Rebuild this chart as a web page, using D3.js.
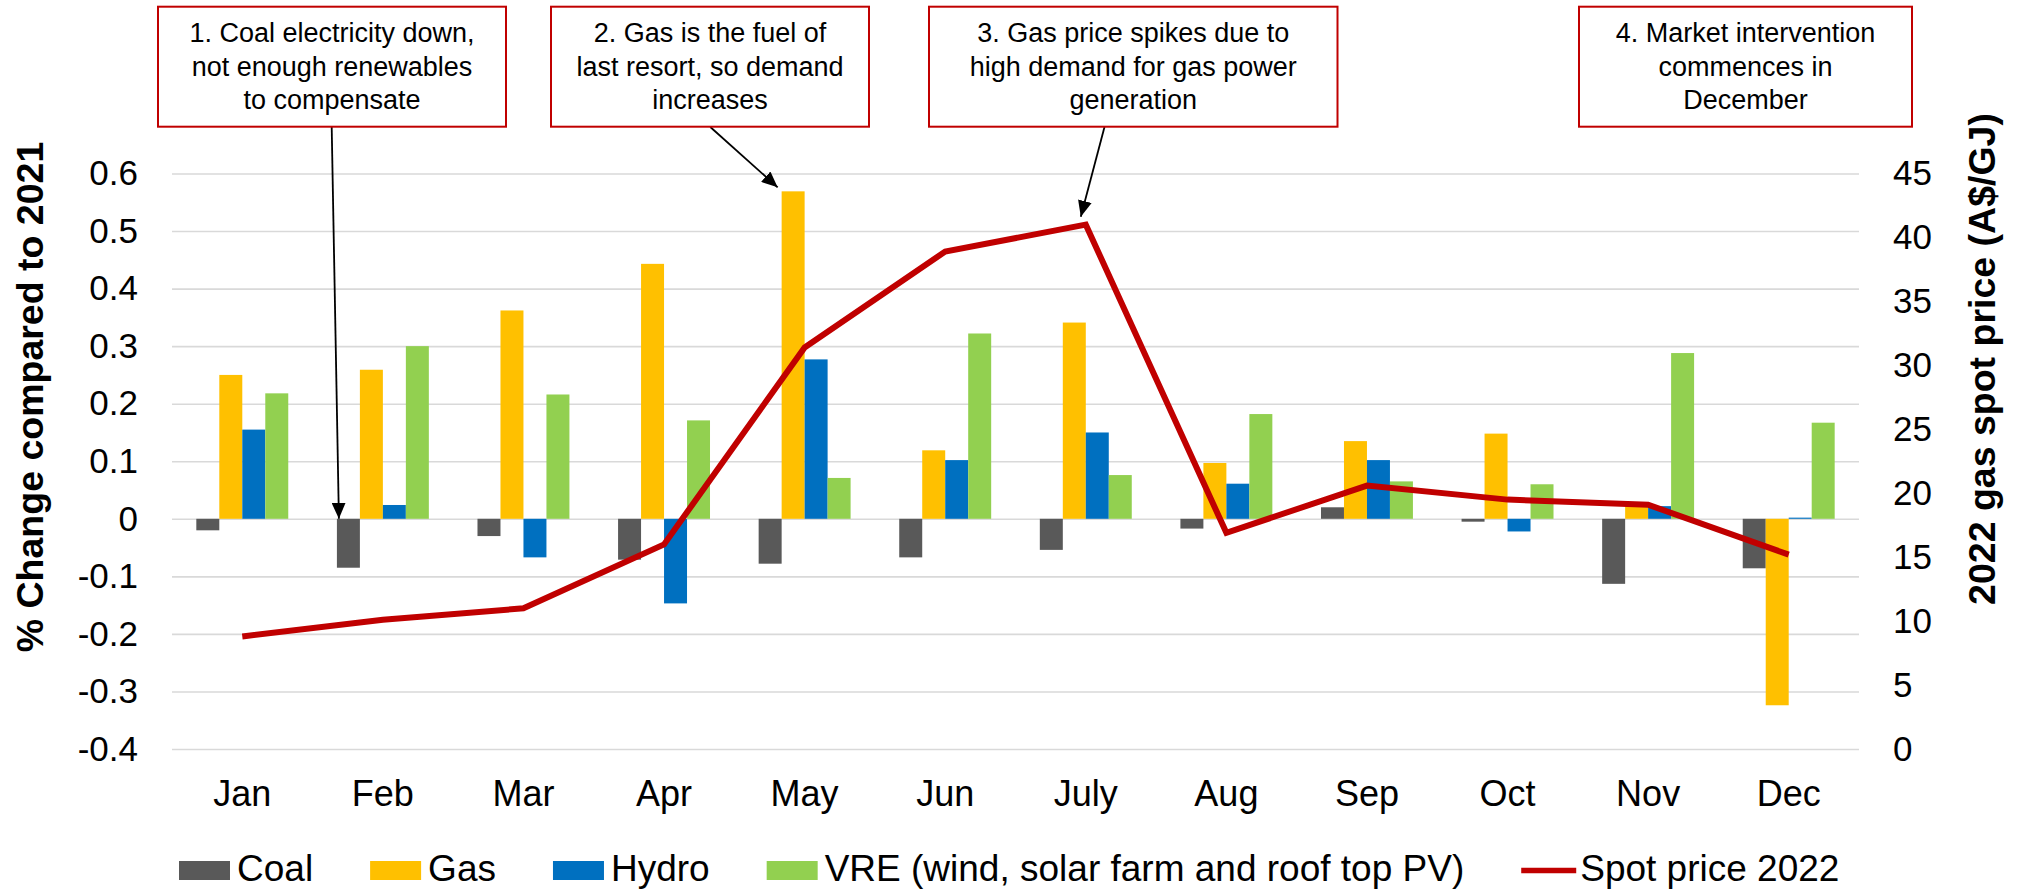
<!DOCTYPE html>
<html>
<head>
<meta charset="utf-8">
<script src="https://cdnjs.cloudflare.com/ajax/libs/d3/7.8.5/d3.min.js"></script>
<style>
    html, body { margin: 0; padding: 0; background: #fff; }
    svg { display: block; font-family: "Liberation Sans", Arial, sans-serif; }
</style>
</head>
<body>
<svg id="chart" width="2018" height="890"></svg>
<script>
// Data
const months = ['Jan', 'Feb', 'Mar', 'Apr', 'May', 'Jun', 'July', 'Aug', 'Sep', 'Oct', 'Nov', 'Dec'];
const seriesNames = ['Coal', 'Gas', 'Hydro', 'VRE (wind, solar farm and roof top PV)'];
const coal  = [-0.020, -0.085, -0.030, -0.071, -0.078, -0.067, -0.054, -0.017, 0.020, -0.005, -0.113, -0.086];
const gas   = [0.250, 0.259, 0.362, 0.443, 0.569, 0.119, 0.341, 0.097, 0.135, 0.148, 0.025, -0.324];
const hydro = [0.155, 0.024, -0.067, -0.147, 0.277, 0.102, 0.150, 0.061, 0.102, -0.022, 0.022, 0.002];
const vre   = [0.218, 0.300, 0.216, 0.171, 0.071, 0.322, 0.076, 0.182, 0.065, 0.060, 0.288, 0.167];
const spotPrice = [8.8, 10.1, 11.0, 16.0, 31.4, 38.9, 41.0, 16.9, 20.6, 19.5, 19.1, 15.2];
const lineName = 'Spot price 2022';
const leftTicks = [-0.4, -0.3, -0.2, -0.1, 0, 0.1, 0.2, 0.3, 0.4, 0.5, 0.6];
const rightTicks = [0, 5, 10, 15, 20, 25, 30, 35, 40, 45];
const notes = [
    ['1. Coal electricity down,', 'not enough renewables', 'to compensate'],
    ['2. Gas is the fuel of', 'last resort, so demand', 'increases'],
    ['3. Gas price spikes due to', 'high demand for gas power', 'generation'],
    ['4. Market intervention', 'commences in', 'December']
];

// Styles
const Config = {
    colors: ['#595959', '#FFC000', '#0070C0', '#92D050'],
    lineColor: '#C00000',
    grid: '#D9D9D9',
    plot: { left: 172, right: 1859, top: 173.5, bottom: 749 }
};

const svg = d3.select('#chart');
const P = Config.plot;
const barData = [coal, gas, hydro, vre];

// 1. Scales
const x = d3.scaleBand().domain(months).range([P.left, P.right])
    .paddingInner(0.346).paddingOuter(0.173);
const x1 = d3.scaleBand().domain(seriesNames).range([0, x.bandwidth()]);
const y = d3.scaleLinear().domain([-0.4, 0.6]).range([P.bottom, P.top]);
const y2 = d3.scaleLinear().domain([0, 45]).range([P.bottom, P.top]);

// 2. Gridlines
const grid = svg.append('g')
    .attr('transform', `translate(${P.left},0)`)
    .call(d3.axisLeft(y).tickValues(leftTicks).tickSize(-(P.right - P.left)).tickFormat(''));
grid.select('.domain').remove();
grid.selectAll('line').attr('stroke', Config.grid).attr('stroke-width', 1.6);

// Left axis labels
const fmt = d => d === 0 ? '0' : d.toFixed(1);
const leftAxis = svg.append('g')
    .attr('transform', 'translate(138,0)')
    .call(d3.axisLeft(y).tickValues(leftTicks).tickSize(0).tickPadding(0).tickFormat(fmt));
leftAxis.select('.domain').remove();
leftAxis.selectAll('text').attr('font-size', 35).attr('fill', '#000')
    .attr('font-family', '"Liberation Sans", Arial, sans-serif');

// Right axis labels
const rightAxis = svg.append('g')
    .attr('transform', 'translate(1893,0)')
    .call(d3.axisRight(y2).tickValues(rightTicks).tickSize(0).tickPadding(0));
rightAxis.select('.domain').remove();
rightAxis.selectAll('text').attr('font-size', 35).attr('fill', '#000')
    .attr('font-family', '"Liberation Sans", Arial, sans-serif');

// Month labels
svg.append('g').selectAll('text')
    .data(months)
    .enter().append('text')
    .attr('x', d => x(d) + x.bandwidth() / 2)
    .attr('y', 806)
    .attr('text-anchor', 'middle')
    .attr('font-size', 36)
    .text(d => d);

// Axis titles
svg.append('text')
    .attr('transform', 'translate(43,397) rotate(-90)')
    .attr('text-anchor', 'middle')
    .attr('font-size', 37.5)
    .attr('font-weight', 'bold')
    .text('% Change compared to 2021');

svg.append('text')
    .attr('transform', 'translate(1995,359) rotate(-90)')
    .attr('text-anchor', 'middle')
    .attr('font-size', 37.5)
    .attr('font-weight', 'bold')
    .text('2022 gas spot price (A$/GJ)');

// 3. Bars
const groups = svg.append('g').selectAll('g')
    .data(months)
    .enter().append('g')
    .attr('transform', d => `translate(${x(d)},0)`);

groups.selectAll('rect')
    .data((m, i) => seriesNames.map((s, k) => ({ s, k, v: barData[k][i] })))
    .enter().append('rect')
    .attr('x', d => x1(d.s))
    .attr('width', x1.bandwidth())
    .attr('y', d => y(Math.max(0, d.v)))
    .attr('height', d => Math.max(1, Math.abs(y(d.v) - y(0))))
    .attr('fill', d => Config.colors[d.k]);

// 4. Spot price line
const line = d3.line()
    .x((d, i) => x(months[i]) + x.bandwidth() / 2)
    .y(d => y2(d));

svg.append('path')
    .datum(spotPrice)
    .attr('d', line)
    .attr('fill', 'none')
    .attr('stroke', Config.lineColor)
    .attr('stroke-width', 6)
    .attr('stroke-linejoin', 'miter');

// 5. Annotation boxes and arrows
const boxes = [
    { x0: 158, x1: 506 },
    { x0: 551, x1: 869 },
    { x0: 929, x1: 1337.5 },
    { x0: 1579, x1: 1912 }
];

svg.append('defs').append('marker')
    .attr('id', 'arrow')
    .attr('markerUnits', 'userSpaceOnUse')
    .attr('viewBox', '0 0 16 14')
    .attr('markerWidth', 16).attr('markerHeight', 14)
    .attr('refX', 16).attr('refY', 7)
    .attr('orient', 'auto')
    .append('path').attr('d', 'M0,0 L16,7 L0,14 Z').attr('fill', '#000');

const bx = x('Feb') + x1('Coal') + 2;
const gx = x('May') + x1('Gas') - 4;
const lx = x('July') + x.bandwidth() / 2 - 5;
const arrows = [
    { from: [331.7, 127], to: [bx, y(0)] },
    { from: [710.3, 127], to: [gx, y(gas[4]) - 4] },
    { from: [1104.5, 127], to: [lx, y2(spotPrice[6]) - 8] }
];

svg.append('g').selectAll('line')
    .data(arrows)
    .enter().append('line')
    .attr('x1', d => d.from[0]).attr('y1', d => d.from[1])
    .attr('x2', d => d.to[0]).attr('y2', d => d.to[1])
    .attr('stroke', '#000')
    .attr('stroke-width', 1.8)
    .attr('marker-end', 'url(#arrow)');

const noteG = svg.append('g').selectAll('g')
    .data(notes)
    .enter().append('g');

noteG.append('rect')
    .attr('x', (d, i) => boxes[i].x0)
    .attr('y', 6.7)
    .attr('width', (d, i) => boxes[i].x1 - boxes[i].x0)
    .attr('height', 120)
    .attr('fill', '#fff')
    .attr('stroke', Config.lineColor)
    .attr('stroke-width', 2);

noteG.each(function(lines, i) {
    const cx = (boxes[i].x0 + boxes[i].x1) / 2;
    d3.select(this).selectAll('text')
        .data(lines)
        .enter().append('text')
        .attr('x', cx)
        .attr('y', (d, j) => 42.3 + j * 33.5)
        .attr('text-anchor', 'middle')
        .attr('font-size', 27)
        .text(d => d);
});

// 6. Legend
const legend = svg.append('g');
let lxPos = 179;
seriesNames.forEach((name, k) => {
    legend.append('rect')
        .attr('x', lxPos).attr('y', 861)
        .attr('width', 51).attr('height', 19)
        .attr('fill', Config.colors[k]);
    const t = legend.append('text')
        .attr('x', lxPos + 58).attr('y', 881)
        .attr('font-size', 37)
        .text(name);
    lxPos += 58 + t.node().getComputedTextLength() + 57;
});
legend.append('line')
    .attr('x1', lxPos).attr('x2', lxPos + 55)
    .attr('y1', 870.5).attr('y2', 870.5)
    .attr('stroke', Config.lineColor)
    .attr('stroke-width', 5.5);
legend.append('text')
    .attr('x', lxPos + 59).attr('y', 881)
    .attr('font-size', 37)
    .text(lineName);
</script>
</body>
</html>
